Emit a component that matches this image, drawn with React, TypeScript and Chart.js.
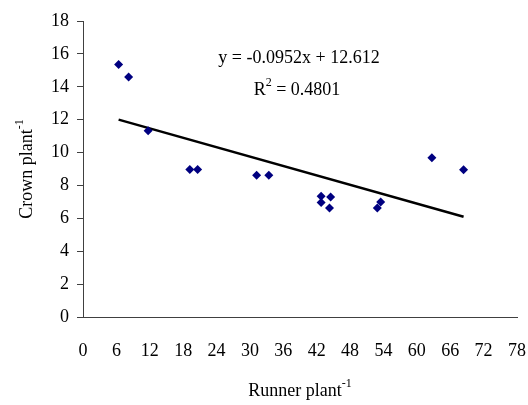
import React, { useEffect, useRef } from "react";
import { Chart, registerables } from "chart.js";

Chart.register(...registerables);

const runnerX = [6.4, 8.2, 11.7, 19.2, 20.6, 31.2, 33.4, 42.8, 42.8, 44.5, 44.3, 53.5, 52.9, 62.7, 68.4];
const crownY = [15.36, 14.6, 11.32, 8.97, 8.97, 8.62, 8.62, 7.35, 6.96, 7.3, 6.63, 7.0, 6.63, 9.68, 8.95];
const slope = -0.0952;
const intercept = 12.612;
const equationText = "y = -0.0952x + 12.612";
const r2Text = "0.4801";
const xTitle = "Runner plant";
const yTitle = "Crown plant";
const xMin = 0, xMax = 78, xStep = 6;
const yMin = 0, yMax = 18, yStep = 2;

const FONT = "'Liberation Serif', 'Times New Roman', serif";

export default function App() {
  const ref = useRef<HTMLCanvasElement | null>(null);
  useEffect(() => {
    document.body.style.margin = "0";
    const pts = runnerX.map((x, i) => ({ x, y: crownY[i] }));
    const lo = Math.min(...runnerX);
    const hi = Math.max(...runnerX);
    const trend = [
      { x: lo, y: slope * lo + intercept },
      { x: hi, y: slope * hi + intercept },
    ];
    const textPlugin = {
      id: "texts",
      afterDraw(chart: any) {
        const ctx = chart.ctx as CanvasRenderingContext2D;
        const ca = chart.chartArea;
        ctx.save();
        ctx.fillStyle = "#000";
        ctx.textBaseline = "middle";
        // equation
        ctx.font = `18px ${FONT}`;
        ctx.textAlign = "center";
        ctx.fillText(equationText, 299, 58);
        // R^2 line
        const rest = " = " + r2Text;
        ctx.font = `18px ${FONT}`;
        const wR = ctx.measureText("R").width;
        const wRest = ctx.measureText(rest).width;
        ctx.font = `12px ${FONT}`;
        const w2 = ctx.measureText("2").width;
        const total = wR + w2 + wRest;
        let x0 = 297 - total / 2;
        ctx.textAlign = "left";
        ctx.font = `18px ${FONT}`;
        ctx.fillText("R", x0, 90);
        ctx.font = `12px ${FONT}`;
        ctx.fillText("2", x0 + wR, 83);
        ctx.font = `18px ${FONT}`;
        ctx.fillText(rest, x0 + wR + w2, 90);

        // x title
        ctx.font = `18px ${FONT}`;
        const wx = ctx.measureText(xTitle).width;
        ctx.font = `12px ${FONT}`;
        const wsx = ctx.measureText("-1").width;
        const cx = (ca.left + ca.right) / 2;
        const sx = cx - (wx + wsx) / 2;
        ctx.font = `18px ${FONT}`;
        ctx.fillText(xTitle, sx, 391);
        ctx.font = `12px ${FONT}`;
        ctx.fillText("-1", sx + wx, 384);

        // y title
        ctx.translate(27, (ca.top + ca.bottom) / 2);
        ctx.rotate(-Math.PI / 2);
        ctx.font = `18px ${FONT}`;
        const wy = ctx.measureText(yTitle).width;
        ctx.font = `12px ${FONT}`;
        const wsy = ctx.measureText("-1").width;
        const sy = -(wy + wsy) / 2;
        ctx.font = `18px ${FONT}`;
        ctx.fillText(yTitle, sy, 0);
        ctx.font = `12px ${FONT}`;
        ctx.fillText("-1", sy + wy, -7);
        ctx.restore();
      },
    };
    const chart = new Chart(ref.current as HTMLCanvasElement, {
      type: "scatter",
      data: {
        datasets: [
          {
            type: "scatter",
            data: pts,
            pointStyle: "rectRot",
            pointRadius: 4.5,
            backgroundColor: "#000080",
            borderColor: "#000080",
            borderWidth: 0,
            order: 1,
          },
          {
            type: "line",
            data: trend,
            borderColor: "#000",
            borderWidth: 2.5,
            pointRadius: 0,
            fill: false,
            order: 2,
          } as any,
        ],
      },
      options: {
        responsive: false,
        animation: false,
        layout: { padding: { top: 21, right: 11, left: 0, bottom: 0 } },
        plugins: { legend: { display: false }, tooltip: { enabled: false } },
        scales: {
          x: {
            type: "linear",
            min: xMin,
            max: xMax,
            afterFit(scale: any) {
              scale.height = 88;
              scale.paddingRight = 0;
              scale.paddingLeft = 0;
            },
            ticks: { stepSize: xStep, padding: 23, color: "#000", font: { family: FONT, size: 18 } },
            grid: { display: false, drawTicks: false },
            border: { display: true, color: "#404040", width: 1 },
          },
          y: {
            type: "linear",
            min: yMin,
            max: yMax,
            afterFit(scale: any) { scale.width = 83; },
            ticks: { stepSize: yStep, padding: 8, color: "#000", font: { family: FONT, size: 18 } },
            grid: { drawOnChartArea: false, drawTicks: true, tickLength: 6, color: "#404040" },
            border: { display: true, color: "#404040", width: 1 },
          },
        },
      },
      plugins: [textPlugin],
    });
    return () => chart.destroy();
  }, []);
  return (
    <div style={{ position: "absolute", left: 0, top: 0, width: 528, height: 405, background: "#fff" }}>
      <canvas ref={ref} width={528} height={405} style={{ width: 528, height: 405 }} />
    </div>
  );
}
